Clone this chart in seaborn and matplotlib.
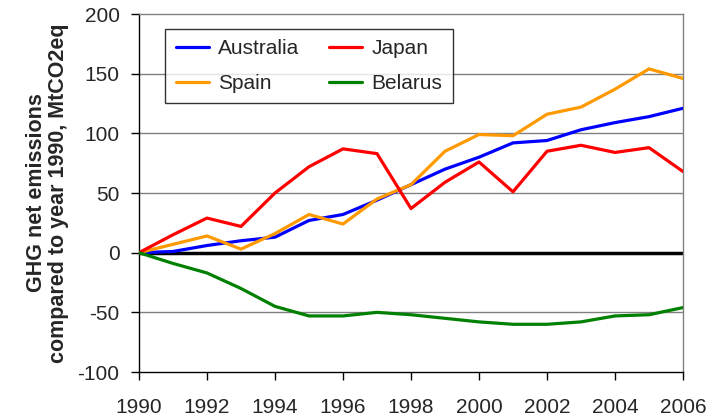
import pandas as pd
import seaborn as sns
import matplotlib.pyplot as plt

sns.set_style("white")
plt.rcParams['font.family'] = ['Liberation Sans', 'DejaVu Sans']
plt.rcParams['axes.unicode_minus'] = False

years = list(range(1990, 2007))
australia = [0, 1, 6, 10, 13, 27, 32, 44, 57, 70, 80, 92, 94, 103, 109, 114, 121]
japan = [0, 15, 29, 22, 50, 72, 87, 83, 37, 59, 76, 51, 85, 90, 84, 88, 68]
spain = [0, 7, 14, 3, 16, 32, 24, 45, 57, 85, 99, 98, 116, 122, 137, 154, 146]
belarus = [0, -9, -17, -30, -45, -53, -53, -50, -52, -55, -58, -60, -60, -58, -53, -52, -46]

series = {"Australia": australia, "Spain": spain, "Japan": japan, "Belarus": belarus}
colors = {"Australia": "#0000FF", "Spain": "#FF9900", "Japan": "#FF0000", "Belarus": "#008000"}

rows = []
for name, vals in series.items():
    for y, v in zip(years, vals):
        rows.append({"Year": y, "Country": name, "Value": v})
df = pd.DataFrame(rows)

fig = plt.figure(figsize=(7.22, 4.18), dpi=100)
ax = fig.add_axes([0.1925, 0.11, 0.7535, 0.8565])

for v in [-50, 50, 100, 150]:
    ax.axhline(v, color="#808080", lw=1, zorder=0)
ax.axhline(0, color="black", lw=2.5, zorder=1)

sns.lineplot(data=df, x="Year", y="Value", hue="Country", palette=colors,
             hue_order=["Australia", "Spain", "Japan", "Belarus"],
             lw=2.3, ax=ax, zorder=3)

ax.set_xlim(1990, 2006)
ax.set_ylim(-100, 200)
ax.set_xticks(range(1990, 2007, 2))
ax.set_yticks(range(-100, 201, 50))
ax.tick_params(axis="both", labelsize=15, direction="out", length=6,
               width=1, color="black", bottom=True, left=True)
ax.tick_params(axis="x", pad=13)
ax.tick_params(axis="y", pad=8)
ax.set_xlabel("")
ax.set_ylabel("GHG net emissions\ncompared to year 1990, MtCO2eq",
              fontsize=15.5, fontweight="bold", labelpad=6, linespacing=1.1)

for s in ["top", "right"]:
    ax.spines[s].set_color("#808080")
for s in ["left", "bottom"]:
    ax.spines[s].set_color("black")
for s in ax.spines.values():
    s.set_linewidth(1)

leg = ax.legend(ncol=2, loc="upper left", bbox_to_anchor=(0.048, 0.958),
                fontsize=15, frameon=True, fancybox=False, edgecolor="black",
                handlelength=1.6, columnspacing=1.4, handletextpad=0.45,
                borderpad=0.5, labelspacing=0.75, borderaxespad=0)
leg.get_frame().set_linewidth(1)

fig.savefig("out.png", dpi=100)
